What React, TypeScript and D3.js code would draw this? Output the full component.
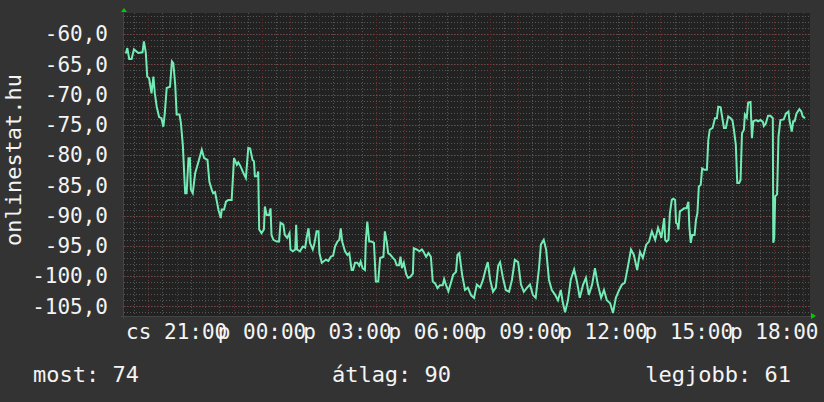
import React from "react";
import * as d3 from "d3";

const W = 824;
const H = 402;

// time: Thursday 19:09 UTC start, ~24h window
const startTime = Date.UTC(2016, 0, 7, 19, 9);
const spanMinutes = 1446.4;
const dayAbbr = ["v", "h", "k", "sze", "cs", "p", "szo"];

const yDomain = [-106.6, -56.5];
const yMajorTicks = [-105, -100, -95, -90, -85, -80, -75, -70, -65, -60];
const yTitle = "onlinestat.hu";

const legendNames = ["most", "átlag", "legjobb"];
const legendValues = [74, 90, 61];

// [minutes after start, value]
const series: [number, number][] = [
  [4,-63.2],[7,-62.3],[11,-64.1],[16,-64.1],[21,-62.5],[27,-62.9],[30,-63.1],[39,-63.0],[42,-61.2],[46,-63.1],[49,-67.0],[53,-67.3],[58,-69.8],[62,-67.0],[65,-69.8],[69,-72.0],[74,-73.7],[79,-73.9],[83,-75.3],[86,-73.1],[90,-68.9],[97,-68.7],[101,-64.5],[104,-64.8],[108,-68.4],[111,-73.3],[117,-73.3],[120,-74.7],[124,-78.3],[129,-86.3],[132,-86.3],[136,-80.5],[139,-80.5],[141,-85.7],[145,-86.3],[150,-83.0],[157,-81.1],[164,-79.1],[169,-80.5],[176,-80.8],[180,-84.4],[185,-85.7],[188,-86.3],[192,-86.1],[199,-89.0],[204,-90.4],[206,-89.0],[211,-89.0],[215,-87.7],[220,-87.4],[227,-87.4],[232,-80.5],[238,-81.6],[241,-81.2],[246,-81.9],[252,-83.0],[257,-83.8],[262,-78.8],[266,-78.9],[271,-80.8],[274,-81.0],[276,-83.5],[281,-83.5],[283,-82.7],[285,-92.3],[290,-92.9],[295,-92.3],[297,-88.5],[301,-89.9],[306,-89.9],[309,-88.8],[311,-93.2],[315,-94.0],[322,-94.3],[327,-94.3],[330,-91.2],[336,-91.5],[339,-93.2],[344,-93.7],[349,-92.9],[351,-95.6],[356,-95.9],[361,-95.6],[363,-91.5],[365,-95.6],[371,-95.9],[377,-95.1],[382,-95.3],[385,-93.7],[389,-92.1],[392,-94.5],[398,-95.6],[401,-94.8],[406,-92.6],[410,-92.6],[412,-96.2],[417,-97.8],[422,-97.5],[426,-97.3],[431,-97.5],[436,-96.8],[441,-96.6],[445,-95.1],[450,-94.3],[454,-94.0],[457,-92.1],[460,-94.3],[466,-95.9],[471,-96.5],[475,-96.2],[480,-99.0],[483,-99.0],[487,-97.8],[492,-97.8],[496,-98.3],[499,-97.6],[503,-98.7],[508,-99.0],[510,-94.0],[513,-91.0],[517,-94.3],[522,-94.3],[527,-94.5],[531,-100.9],[536,-100.9],[540,-97.0],[547,-96.8],[550,-92.6],[554,-94.3],[557,-96.2],[562,-96.5],[567,-97.0],[571,-97.3],[575,-98.2],[580,-98.2],[583,-96.8],[586,-98.7],[590,-97.8],[595,-99.7],[599,-100.3],[604,-100.1],[609,-99.6],[611,-95.4],[617,-95.6],[623,-95.9],[628,-95.6],[631,-95.9],[637,-96.8],[642,-96.2],[647,-96.8],[651,-100.9],[656,-101.2],[661,-102.0],[666,-101.5],[672,-101.5],[675,-100.5],[679,-101.5],[684,-102.5],[689,-101.2],[694,-99.8],[700,-99.3],[703,-96.5],[707,-96.2],
  [713,-99.8],[719,-102.3],[725,-101.9],[732,-103.2],[738,-103.6],[744,-101.4],[751,-101.9],[757,-100.6],[763,-98.7],[767,-97.7],[772,-100.6],[778,-102.6],[784,-101.9],[789,-98.3],[793,-97.7],[799,-100.3],[805,-102.3],[812,-102.6],[818,-100.6],[824,-97.3],[831,-97.7],[837,-101.4],[843,-102.6],[850,-101.9],[856,-101.4],[862,-103.1],[868,-103.6],[875,-98.7],[879,-94.8],[885,-94.0],[890,-95.6],[896,-100.6],[902,-102.3],[909,-103.1],[915,-104.0],[921,-102.3],[925,-104.3],[930,-106.0],[936,-104.0],[942,-100.6],[949,-98.9],[955,-100.9],[961,-103.6],[968,-101.4],[974,-100.3],[980,-103.1],[987,-101.4],[993,-98.7],[999,-101.4],[1006,-103.6],[1012,-102.3],[1018,-104.0],[1025,-104.5],[1031,-106.1],[1037,-103.6],[1044,-102.3],[1050,-101.4],[1056,-101.1],[1063,-98.2],[1069,-95.6],[1075,-96.5],[1082,-99.0],[1088,-96.0],[1094,-97.0],[1101,-94.8],[1107,-94.3],[1113,-92.6],[1120,-94.0],[1126,-92.0],
  [1130,-92.9],[1133,-93.7],[1139,-90.4],[1141,-94.0],[1144,-94.3],[1148,-94.0],[1151,-89.6],[1155,-87.4],[1158,-87.2],[1162,-87.4],[1164,-91.2],[1167,-91.4],[1169,-92.3],[1172,-89.3],[1176,-89.1],[1181,-88.8],[1186,-88.8],[1190,-87.7],[1192,-91.8],[1195,-94.5],[1198,-93.2],[1203,-93.2],[1206,-90.7],[1209,-89.6],[1212,-85.2],[1216,-84.9],[1219,-82.2],[1223,-82.4],[1229,-82.4],[1232,-77.5],[1235,-75.8],[1241,-75.5],[1246,-73.9],[1250,-73.9],[1253,-72.0],[1258,-72.1],[1261,-73.6],[1265,-75.5],[1269,-75.5],[1274,-73.6],[1279,-73.9],[1283,-74.3],[1286,-75.8],[1290,-78.3],[1293,-84.6],[1297,-84.6],[1300,-84.1],[1303,-76.4],[1307,-75.8],[1309,-73.3],[1313,-73.8],[1316,-71.3],[1321,-71.2],[1324,-77.2],[1327,-74.4],[1333,-74.2],[1337,-74.4],[1342,-74.2],[1347,-74.5],[1349,-75.2],[1353,-74.8],[1358,-73.5],[1363,-73.5],[1368,-73.9],[1369,-94.5],[1371,-93.7],[1373,-86.8],[1377,-86.5],[1380,-76.9],[1384,-74.2],[1391,-74.1],[1396,-73.1],[1401,-72.8],[1403,-74.2],[1408,-76.1],[1411,-74.4],[1414,-74.4],[1418,-73.1],[1424,-72.4],[1428,-72.8],[1431,-73.6],[1436,-73.9],
];

const FONT = "'DejaVu Sans Mono', monospace";

export default function App() {
  const plot = { left: 124, right: 810, top: 13, bottom: 316 };
  const start = new Date(startTime);
  const end = new Date(startTime + spanMinutes * 60000);
  const x = d3.scaleUtc().domain([start, end]).range([plot.left, plot.right]);
  const y = d3.scaleLinear().domain(yDomain).range([plot.bottom, plot.top]);

  const minorX = d3.utcMinute.every(30)!.range(start, end);
  const majorX = d3.utcHour.every(1)!.range(start, end);
  const labelX = d3.utcHour.every(3)!.range(start, end);
  const minorY = d3.range(Math.ceil(yDomain[0]), Math.floor(yDomain[1]) + 1);

  const line = d3
    .line<[number, number]>()
    .x((d) => x(new Date(startTime + d[0] * 60000)))
    .y((d) => y(d[1]));

  const px = (v: number) => Math.round(v) + 0.5;
  const fmtY = (v: number) => v.toFixed(1).replace(".", ",");
  const fmtX = (d: Date) =>
    `${dayAbbr[d.getUTCDay()]} ${String(d.getUTCHours()).padStart(2, "0")}:${String(d.getUTCMinutes()).padStart(2, "0")}`;

  const minorColor = "#555555";
  const majorColor = "#6a2e2e";
  const textColor = "#f4f4f4";

  return (
    <svg width={W} height={H} style={{ position: "fixed", left: 0, top: 0, display: "block" }} fontFamily={FONT}>
      <rect x={0} y={0} width={W} height={H} fill="#333333" />
      <rect x={plot.left} y={plot.top} width={plot.right - plot.left} height={plot.bottom - plot.top} fill="#222222" />
      {/* minor grid */}
      {minorY.map((v) => (
        <line key={"my" + v} x1={plot.left} x2={plot.right} y1={px(y(v))} y2={px(y(v))} stroke={minorColor} strokeDasharray="1,2" />
      ))}
      {minorX.map((d, i) => (
        <line key={"mx" + i} x1={px(x(d))} x2={px(x(d))} y1={plot.top} y2={plot.bottom + 2} stroke={minorColor} strokeDasharray="1,2" />
      ))}
      {/* major grid */}
      {yMajorTicks.map((v) => (
        <line key={"My" + v} x1={plot.left - 2} x2={plot.right} y1={px(y(v))} y2={px(y(v))} stroke={majorColor} strokeDasharray="1,2" />
      ))}
      {majorX.map((d, i) => (
        <line key={"Mx" + i} x1={px(x(d))} x2={px(x(d))} y1={plot.top} y2={plot.bottom + 3} stroke={majorColor} strokeDasharray="1,2" />
      ))}
      {/* axes */}
      <line x1={plot.left - 3} x2={plot.right + 2} y1={plot.bottom + 0.5} y2={plot.bottom + 0.5} stroke="#444444" />
      <line x1={plot.left - 0.5} x2={plot.left - 0.5} y1={plot.top - 2} y2={plot.bottom + 3} stroke="#444444" />
      {/* data line */}
      <path d={line(series) || ""} fill="none" stroke="#72ebb4" strokeWidth={2} strokeLinejoin="miter" />
      {/* arrows */}
      <path d={`M${plot.left - 3},${plot.top - 1} L${plot.left + 3},${plot.top - 1} L${plot.left},${plot.top - 5} Z`} fill="#00cc00" />
      <path d={`M${plot.right + 1},${plot.bottom - 3} L${plot.right + 1},${plot.bottom + 3} L${plot.right + 6},${plot.bottom} Z`} fill="#00cc00" />
      {/* y labels */}
      {yMajorTicks.map((v) => (
        <text key={"yl" + v} x={108} y={y(v) + 7.3} textAnchor="end" fontSize={21} fill={textColor}>
          {fmtY(v)}
        </text>
      ))}
      {/* x labels */}
      {labelX.map((d, i) => (
        <text key={"xl" + i} x={x(d)} y={338.5} textAnchor="middle" fontSize={21} fill={textColor}>
          {fmtX(d)}
        </text>
      ))}
      {/* y title */}
      <text transform="translate(21,160) rotate(-90)" textAnchor="middle" fontSize={22} fill={textColor}>
        {yTitle}
      </text>
      {/* legend */}
      <text x={33} y={381.7} fontSize={22} fill={textColor} textAnchor="start">
        {`${legendNames[0]}: ${legendValues[0]}`}
      </text>
      <text x={391.5} y={381.7} fontSize={22} fill={textColor} textAnchor="middle">
        {`${legendNames[1]}: ${legendValues[1]}`}
      </text>
      <text x={791} y={381.7} fontSize={22} fill={textColor} textAnchor="end">
        {`${legendNames[2]}: ${legendValues[2]}`}
      </text>
    </svg>
  );
}
